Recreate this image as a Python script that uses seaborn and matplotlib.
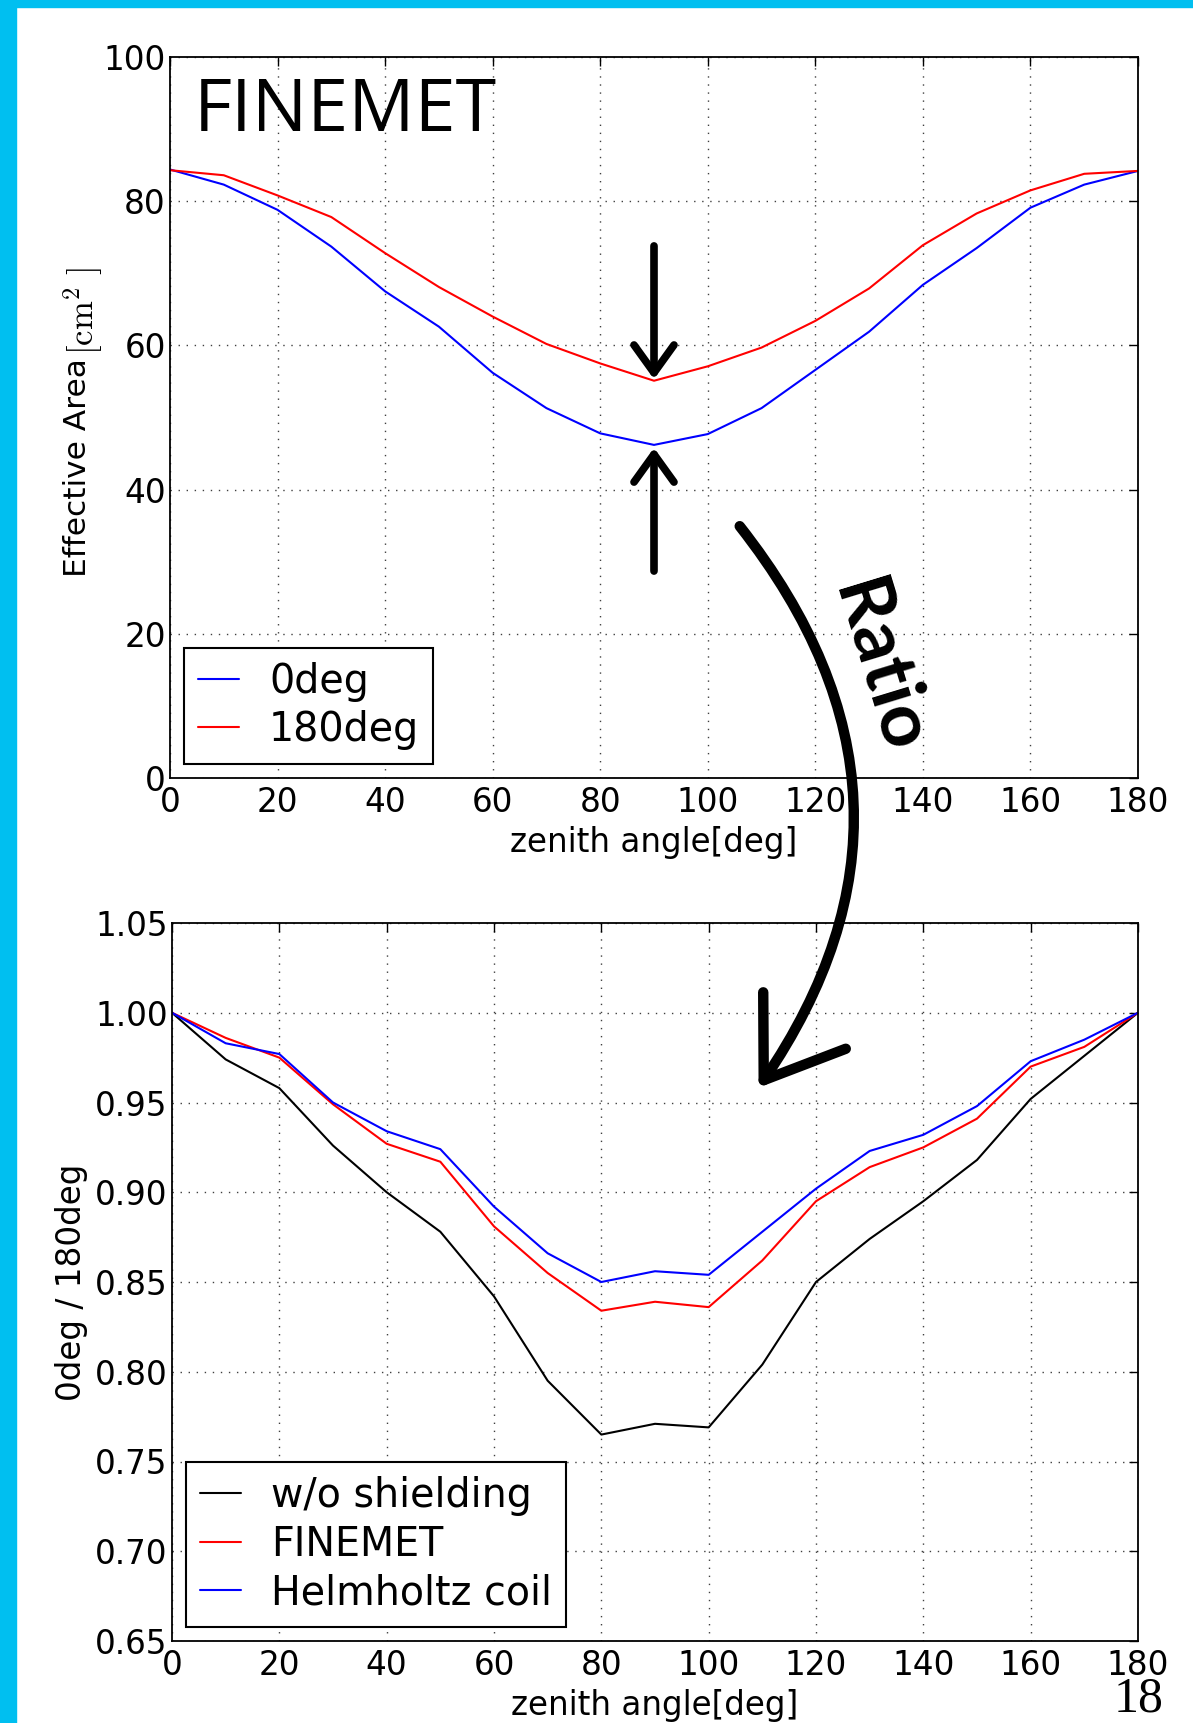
import matplotlib
matplotlib.use("Agg")
import matplotlib.pyplot as plt
import numpy as np
import pandas as pd
import seaborn as sns
from matplotlib.patches import FancyArrowPatch, Rectangle
from matplotlib.ticker import FormatStrFormatter

# ---------------- data ----------------
zenith = [0, 10, 20, 30, 40, 50, 60, 70, 80, 90, 100, 110, 120, 130, 140, 150, 160, 170, 180]

area_0deg = [84.4, 82.3, 78.8, 73.7, 67.5, 62.6, 56.2, 51.3, 47.8, 46.2, 47.7, 51.3, 56.6,
             61.9, 68.4, 73.5, 79.1, 82.3, 84.2]
area_180deg = [84.3, 83.6, 80.8, 77.8, 72.8, 68.1, 64.0, 60.2, 57.5, 55.1, 57.1, 59.7, 63.4,
               67.9, 73.9, 78.3, 81.5, 83.8, 84.2]

ratio_noshield = [1.000, 0.974, 0.958, 0.926, 0.900, 0.878, 0.842, 0.795, 0.765, 0.771, 0.769,
                  0.804, 0.850, 0.874, 0.895, 0.918, 0.952, 0.976, 1.000]
ratio_finemet = [1.000, 0.986, 0.975, 0.949, 0.927, 0.917, 0.881, 0.855, 0.834, 0.839, 0.836,
                 0.862, 0.895, 0.914, 0.925, 0.941, 0.970, 0.981, 1.000]
ratio_helmholtz = [1.000, 0.983, 0.977, 0.950, 0.934, 0.924, 0.892, 0.866, 0.850, 0.856, 0.854,
                   0.878, 0.902, 0.923, 0.932, 0.948, 0.973, 0.985, 1.000]

top_labels = ["0deg", "180deg"]
bottom_labels = ["w/o shielding", "FINEMET", "Helmholtz coil"]
x_ticks = [0, 20, 40, 60, 80, 100, 120, 140, 160, 180]
top_yticks = [0, 20, 40, 60, 80, 100]
bottom_yticks = [0.65, 0.70, 0.75, 0.80, 0.85, 0.90, 0.95, 1.00, 1.05]

# ---------------- style ----------------
sns.set_theme(style="white")
plt.rcParams.update({
    "font.family": ["DejaVu Sans"],
    "mathtext.fontset": "cm",
    "axes.edgecolor": "black",
    "axes.linewidth": 1.3,
    "xtick.direction": "in",
    "ytick.direction": "in",
    "xtick.top": True,
    "ytick.right": True,
    "xtick.major.size": 6.5,
    "ytick.major.size": 6.5,
    "xtick.major.width": 1.0,
    "ytick.major.width": 1.0,
    "xtick.color": "black",
    "ytick.color": "black",
    "text.color": "black",
    "axes.labelcolor": "black",
})

W, H = 1193, 1723
fig = plt.figure(figsize=(W / 100, H / 100), dpi=100)
fig.patch.set_facecolor("white")

cyan = "#00BFF0"
fig.add_artist(Rectangle((0, 0), 16 / W, 1, transform=fig.transFigure, color=cyan, zorder=0))
fig.add_artist(Rectangle((0, 1 - 7 / H), 1, 7 / H, transform=fig.transFigure, color=cyan, zorder=0))

ax1 = fig.add_axes([170 / W, 1 - 778 / H, (1138 - 170) / W, (778 - 57) / H])
ax2 = fig.add_axes([172 / W, 1 - 1641 / H, (1138 - 172) / W, (1641 - 923) / H])

df_top = pd.DataFrame({
    "zenith": zenith * 2,
    "area": area_0deg + area_180deg,
    "series": [top_labels[0]] * len(zenith) + [top_labels[1]] * len(zenith),
})
df_bot = pd.DataFrame({
    "zenith": zenith * 3,
    "ratio": ratio_noshield + ratio_finemet + ratio_helmholtz,
    "series": sum([[lab] * len(zenith) for lab in bottom_labels], []),
})

sns.lineplot(data=df_top, x="zenith", y="area", hue="series", hue_order=top_labels,
             palette=["blue", "red"], linewidth=1.5, ax=ax1)
sns.lineplot(data=df_bot, x="zenith", y="ratio", hue="series", hue_order=bottom_labels,
             palette=["black", "red", "blue"], linewidth=1.5, ax=ax2)

tick_fs = 23.5
for ax in (ax1, ax2):
    ax.set_xlim(0, 180)
    ax.set_xticks(x_ticks)
    ax.grid(True, color="0.25", linestyle=(0, (1, 4.8)), linewidth=1.0)
    ax.tick_params(labelsize=tick_fs)
    ax.tick_params(axis="x", pad=6)
    ax.tick_params(axis="y", pad=3)
    ax.set_xlabel("zenith angle[deg]", fontsize=23.5, labelpad=5)
    for s in ax.spines.values():
        s.set_visible(True)
        s.set_color("black")

ax1.set_ylim(0, 100)
ax1.set_yticks(top_yticks)
ax1.set_ylabel("Effective Area", fontsize=22.5, labelpad=8.5)
ax1.yaxis.label.set_y(0.431)

ax2.set_ylim(0.65, 1.05)
ax2.set_yticks(bottom_yticks)
ax2.yaxis.set_major_formatter(FormatStrFormatter("%.2f"))
ax2.set_ylabel("0deg / 180deg", fontsize=23.5, labelpad=5)

# unit part of the y label (Computer Modern, as in the original)
ax1.annotate(r"$[\mathrm{cm}^{2}\ ]$", xy=(0.0, 1.0), xycoords=ax1.yaxis.label,
             xytext=(-1, 2), textcoords="offset points",
             rotation=90, ha="left", va="bottom", fontsize=25)

leg_kw = dict(loc="lower left", fontsize=28.5, frameon=True, fancybox=False, framealpha=1,
              edgecolor="black", handlelength=1.05, handletextpad=0.75, labelspacing=0.22,
              borderpad=0.35, borderaxespad=0.35, title=None)
l1 = ax1.legend(**leg_kw)
l2 = ax2.legend(**leg_kw)
for lg in (l1, l2):
    lg.get_frame().set_linewidth(1.5)
    for ln in lg.get_lines():
        ln.set_linewidth(1.5)

ax1.text(0.025, 0.975, "FINEMET", transform=ax1.transAxes, fontsize=53,
         family=["Open Sans", "DejaVu Sans"], ha="left", va="top")

arrow_kw = dict(arrowstyle="->,head_length=0.5,head_width=0.36", lw=5.5, color="black",
                mutation_scale=40, shrinkA=0, shrinkB=0)
ax1.annotate("", xy=(90, 55.3), xytext=(90, 73.8), arrowprops=arrow_kw)
ax1.annotate("", xy=(90, 45.8), xytext=(90, 28.7), arrowprops=arrow_kw)

# hand-drawn style "Ratio" arrow between the panels
ratio_arrow = FancyArrowPatch((738 / W, 1 - 524 / H), (757 / W, 1 - 1090 / H),
                              transform=fig.transFigure,
                              connectionstyle="arc3,rad=-0.37",
                              arrowstyle="->,head_length=1.3,head_width=0.9",
                              mutation_scale=40, lw=7.5, color="black", zorder=10)
fig.add_artist(ratio_arrow)
fig.text(879 / W, 1 - 667 / H, "Ratio", fontsize=54, fontweight="bold", rotation=-73,
         ha="center", va="center", family=["Lato", "DejaVu Sans"], zorder=10)

fig.text(1164 / W, 1 - 1711 / H, "18", fontsize=36, family=["Liberation Serif", "DejaVu Serif"],
         ha="right", va="baseline")

fig.savefig("out.png", dpi=100, facecolor="white")
